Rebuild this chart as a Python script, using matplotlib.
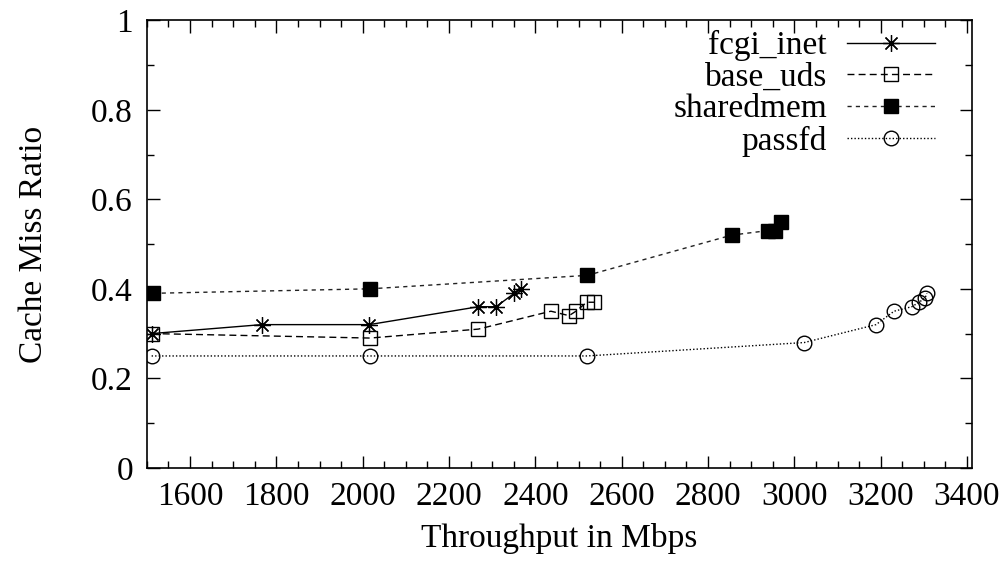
import matplotlib
matplotlib.use("Agg")
import matplotlib.pyplot as plt
from matplotlib.ticker import MultipleLocator, FuncFormatter

plt.rcParams['font.family'] = ['Liberation Serif', 'DejaVu Serif']
plt.rcParams['font.size'] = 24

# data
fcgi_x = [1511, 1766, 2015, 2268, 2309, 2351, 2367]
fcgi_y = [0.30, 0.32, 0.32, 0.36, 0.36, 0.39, 0.40]

uds_x = [1511, 2017, 2268, 2436, 2478, 2494, 2519, 2536]
uds_y = [0.30, 0.29, 0.31, 0.35, 0.34, 0.35, 0.37, 0.37]

shm_x = [1515, 2017, 2520, 2855, 2938, 2954, 2968]
shm_y = [0.39, 0.40, 0.43, 0.52, 0.53, 0.53, 0.55]

pfd_x = [1511, 2017, 2519, 3023, 3189, 3231, 3272, 3289, 3303, 3307]
pfd_y = [0.25, 0.25, 0.25, 0.28, 0.32, 0.35, 0.36, 0.37, 0.38, 0.39]

fig = plt.figure(figsize=(10.06, 5.63), dpi=100)
ax = fig.add_axes([0.146, 0.169, 0.82, 0.795])

ms = 10.5
ax.plot(fcgi_x, fcgi_y, color='black', lw=1.0, ls='-',
        marker=(8, 2, 0), ms=12, mew=0.9, label='fcgi_inet')
ax.plot(uds_x, uds_y, color='black', lw=1.0, ls=(0, (5, 3)),
        marker='s', ms=ms, mfc='none', mec='black', mew=1.0, label='base_uds')
ax.plot(shm_x, shm_y, color='#222222', lw=1.0, ls=(0, (3, 3)),
        marker='s', ms=ms, mfc='black', mec='black', label='sharedmem')
ax.plot(pfd_x, pfd_y, color='black', lw=1.0, ls=(0, (1, 1.5)),
        marker='o', ms=ms, mfc='none', mec='black', mew=1.0, label='passfd')

ax.set_xlim(1500, 3411)
ax.set_ylim(0, 1)
ax.xaxis.set_minor_locator(MultipleLocator(50))
ax.yaxis.set_major_locator(MultipleLocator(0.2))
ax.yaxis.set_minor_locator(MultipleLocator(0.1))
ax.set_xticks(range(1600, 3401, 200))
ax.yaxis.set_major_formatter(FuncFormatter(lambda v, p: '%g' % round(v, 2)))

ax.tick_params(which='both', direction='in', top=True, right=True, width=1.0)
ax.tick_params(which='major', length=9, pad=10)
ax.tick_params(which='minor', length=5)
for s in ax.spines.values():
    s.set_linewidth(1.2)

ax.set_xlabel('Throughput in Mbps', labelpad=8)
ax.set_ylabel('Cache Miss Ratio', labelpad=30)

ax.legend(loc='upper right', bbox_to_anchor=(0.98, 1.022), frameon=False,
          markerfirst=False, handlelength=2.65, handletextpad=0.6,
          labelspacing=0.03, borderaxespad=0.2)

fig.savefig('out.png', dpi=100)
